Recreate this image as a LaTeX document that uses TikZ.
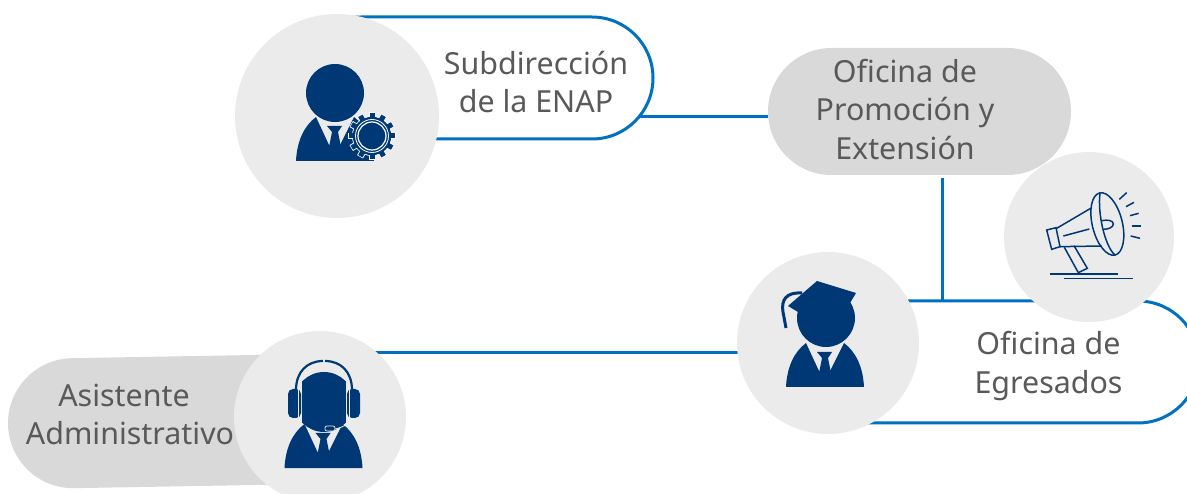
\documentclass[tikz,border=0pt]{standalone}
\usepackage{fontspec}
\setmainfont{Noto Sans}
\usetikzlibrary{positioning, backgrounds, shapes.misc}
\definecolor{navy}{HTML}{003875}
\definecolor{linkblue}{HTML}{0070C0}
\definecolor{disc}{HTML}{EBEBEB}
\definecolor{pillgray}{HTML}{D9D9D9}
\definecolor{labelgray}{HTML}{595959}
\tikzset{
    link/.style={linkblue, line width=3pt},
    pillopen/.style={rounded rectangle, draw=linkblue, line width=3pt, fill=white, minimum height=122pt, inner sep=0pt},
    pillgrey/.style={rounded rectangle, fill=pillgray, inner sep=0pt},
    disk/.style={circle, fill=disc, inner sep=0pt},
    tag/.style={text=labelgray, font=\fontsize{30.4}{38.5}\selectfont, align=center, inner sep=0pt},
    megaline/.style={navy, line width=1.5pt},
    pics/person/.style={code={
        % shoulders with the shirt notch
        \fill [navy] (-39,68) .. controls (-38,48) and (-31,33) .. (-19,24) -- (-6,52) -- (5,52) -- (19,24) .. controls (31,33) and (38,48) .. (39,68) -- cycle;
        % tie
        \fill [navy] (-8,33) -- (7,33) -- (3,39) -- (6,54) -- (-6,54) -- (-3,39) -- cycle;
    }},
}

\begin{document}
\begin{tikzpicture}[x=1pt, y=-1pt]
    \useasboundingbox (0,0) rectangle (1187,494);
    % Outlined and grey pills
    \node [pillopen, minimum width=353pt] (subdir) at (476.5,78) {};
    \node [pillgrey, minimum width=303pt, minimum height=127pt] (promo) at (919.5,111.5) {};
    \node [pillopen, minimum width=409pt] (egres) at (994.5,362) {};
    \node [pillgrey, minimum width=322pt, minimum height=130pt, rotate=1] (asist) at (169,421.5) {};
    % Discs
    \node [disk, minimum size=204pt] (subdirdisk) at (337,116) {};
    \node [disk, minimum size=170pt] (megadisk) at (1089,237) {};
    \node [disk, minimum size=182pt] (graddisk) at (828,343) {};
    \node [disk, minimum size=172pt] (asistdisk) at (320,417) {};
    % Connectors
    \coordinate (subdirout) at (500,117);
    \coordinate (promodrop) at (942,178);
    \coordinate (asistrise) at (350,353);
    \begin{scope}[on background layer]
        \draw [link] (subdirout) -- (subdirout -| promo.west);
        \draw [link] (promodrop) -- (promodrop |- egres.center);
        \draw [link] (asistrise) -- (asistrise -| graddisk.center);
    \end{scope}
    % Labels
    \node [tag] (subdirtext) at (536,82) {Subdirección\\de la ENAP};
    \node [tag] (promotext) at (905,109.5) {Oficina de\\Promoción y\\Extensión};
    \node [tag] (egrestext) at (1048.5,366) {Oficina de\\Egresados};
    \node [tag] (asisttext) at (130,414.5) {Asistente\hspace*{12pt}\\Administrativo};
    % Person with gear
    \fill [navy] (335,93) circle (29);
    \pic at (335,93) {person};
    \begin{scope}[shift={(372,136)}]
        \foreach \a in {0,30,...,330}
            \fill [white, rotate=\a] (-3.4,-24) rectangle (3.4,-17);
        \fill [white] (0,0) circle (20);
        \foreach \a in {0,30,...,330}
            \fill [navy, rotate=\a] (-2.5,-23.3) rectangle (2.5,-17);
        \fill [navy] (0,0) circle (19.2);
        \draw [white, line width=0.8pt] (0,0) circle (16.5);
        \draw [white, line width=1.2pt] (0,0) circle (14);
    \end{scope}
    % Graduate
    \draw [navy, line width=3pt] (802,293) .. controls (786,292) and (781,300) .. (783,312) -- (786,328);
    \fill [navy] (826,318) circle (29);
    \fill [navy] (817,281) -- (856,293) -- (850,303) -- (798,312) -- (788,306) -- (803,293) -- cycle;
    \pic at (825,319) {person};
    % Assistant with headset
    \fill [navy] (324,402) circle (30);
    \fill [disc] (286,382) rectangle (301.8,422);
    \fill [disc] (346.2,382) rectangle (362,422);
    \draw [navy, line width=2.2pt] (296,390) .. controls (296,372) and (307,361) .. (323,361);
    \draw [navy, line width=2.2pt] (352,390) .. controls (352,372) and (341,361) .. (325,361);
    \fill [navy, rounded corners=5pt] (288,389) rectangle (301,418);
    \fill [navy, rounded corners=5pt] (347,389) rectangle (360,418);
    \draw [disc, line width=0.7pt] (298.5,390) -- (298.5,417);
    \draw [disc, line width=0.7pt] (349.5,390) -- (349.5,417);
    \pic at (323.5,400) {person};
    \draw [disc, line width=0.8pt] (349,418) .. controls (349,424) and (344,427) .. (335,429);
    \draw [disc, line width=0.7pt, fill=navy, rounded corners=2pt] (325,426) rectangle (335,431);
    % Megaphone
    \begin{scope}[shift={(1000,150)}, x=1pt/3, y=-1pt/3]
        \draw [megaline, rotate around={14:(322,222)}] (322,222) ellipse (45 and 96);
        \draw [megaline] (300,130) .. controls (292,190) and (315,290) .. (345,315);
        \draw [megaline] (272,175) -- (170,235);
        \draw [megaline] (180,290) -- (305,288);
        \draw [megaline] (140,240) -- (168,233) -- (180,290) -- (155,298) -- cycle;
        \draw [megaline] (193,292) -- (235,368) -- (262,355) -- (222,287);
        \draw [megaline] (190,258) -- (268,237);
        \draw [megaline] (305,212) .. controls (325,208) and (340,212) .. (340,222) .. controls (340,232) and (325,238) .. (310,238);
        \draw [megaline] (150,372) -- (355,372);
        \draw [megaline] (193,385) -- (398,385);
        \draw [megaline] (358,148) -- (380,128);
        \draw [megaline] (378,170) -- (402,157);
        \draw [megaline] (390,197) -- (416,190);
        \draw [megaline] (395,228) -- (423,228);
        \draw [megaline] (392,258) -- (420,265);
    \end{scope}
\end{tikzpicture}
\end{document}
